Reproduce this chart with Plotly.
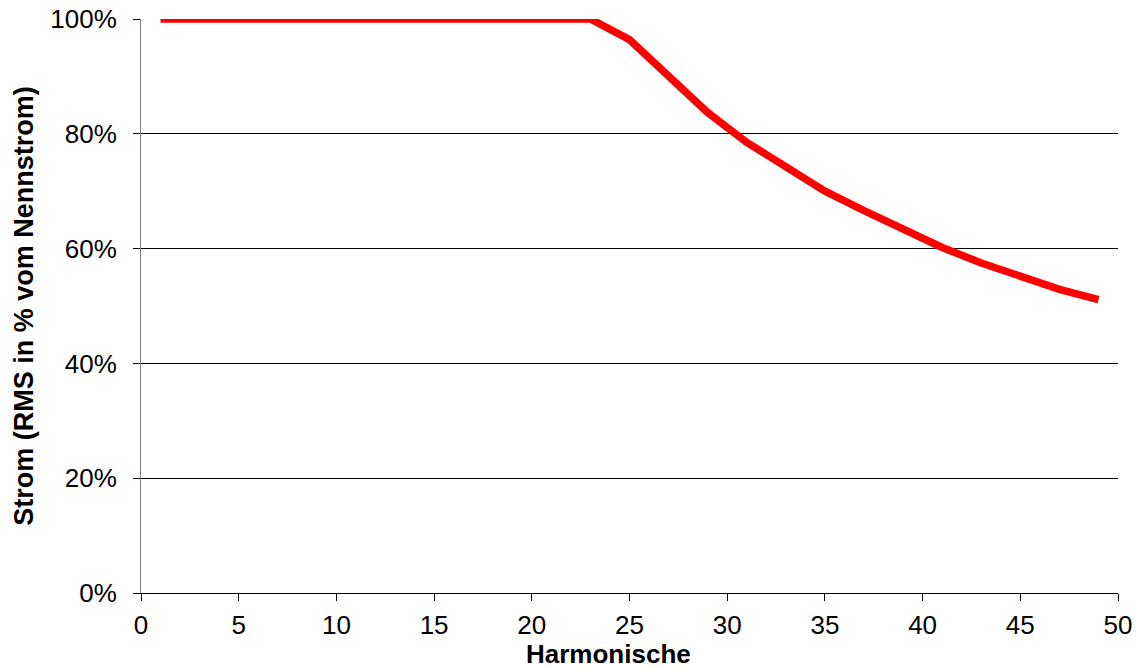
import plotly.graph_objects as go

# Harmonic order (odd harmonics) and permissible current in % of rated current
harmonics = [1, 3, 5, 7, 9, 11, 13, 15, 17, 19, 21, 23, 25, 27, 29, 31, 33, 35, 37, 39, 41, 43, 45, 47, 49]
strom_pct = [100, 100, 100, 100, 100, 100, 100, 100, 100, 100, 100, 100,
             96.4, 90.0, 83.7, 78.5, 74.2, 70.0, 66.6, 63.3, 60.2, 57.5, 55.2, 52.9, 51.1]

x_ticks = [0, 5, 10, 15, 20, 25, 30, 35, 40, 45, 50]
y_ticks = [0, 20, 40, 60, 80, 100]
y_tick_labels = ["0%", "20%", "40%", "60%", "80%", "100%"]

font_family = "Liberation Sans, Arial, sans-serif"

fig = go.Figure()
fig.add_trace(go.Scatter(
    x=harmonics, y=strom_pct, mode="lines",
    line=dict(color="#ff0000", width=7.5),
    showlegend=False, hoverinfo="x+y",
))

fig.update_layout(
    width=1142, height=670,
    margin=dict(l=141, r=24, t=19, b=77),
    paper_bgcolor="white", plot_bgcolor="white",
    font=dict(family=font_family, size=26, color="black"),
    xaxis=dict(
        range=[0, 50], tickvals=x_ticks, showgrid=False,
        showline=True, linecolor="black", linewidth=1,
        ticks="outside", ticklen=7, tickcolor="black",
        ticklabelstandoff=2,
        zeroline=False, automargin=False,
    ),
    yaxis=dict(
        range=[0, 100], tickvals=y_ticks, ticktext=y_tick_labels,
        showgrid=True, gridcolor="black", gridwidth=1,
        showline=True, linecolor="#808080", linewidth=1,
        ticks="outside", ticklen=7, tickcolor="black",
        ticklabelstandoff=11,
        zeroline=False, automargin=False,
        title=dict(text="<b>Strom (RMS in % vom Nennstrom)</b>", font=dict(size=27), standoff=8),
    ),
    annotations=[dict(
        text="<b>Harmonische</b>", xref="paper", yref="paper",
        x=0.478, y=0, xanchor="center", yanchor="top", yshift=-44,
        showarrow=False, font=dict(size=26),
    )],
)

fig.write_html("out.html")
